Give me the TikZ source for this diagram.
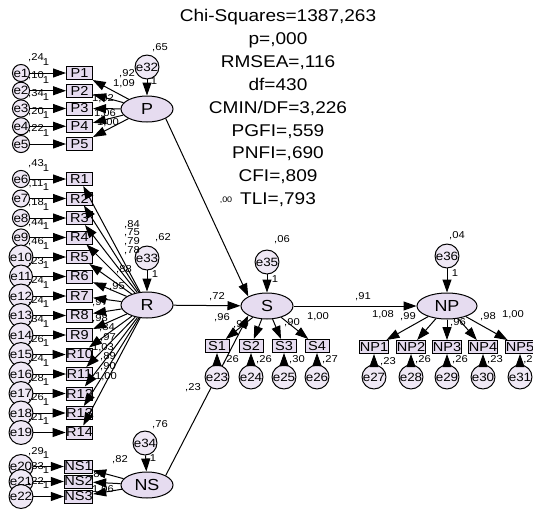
\documentclass[tikz,border=0pt]{standalone}
\usepackage{fontspec}
\setmainfont{Liberation Sans}[FakeStretch=1.12]
\usetikzlibrary{arrows.meta,shapes.geometric}
\definecolor{lav}{HTML}{E6DCF0}
\definecolor{lavlight}{HTML}{EFE8F5}

\begin{document}
\begin{tikzpicture}[x=1pt,y=-1pt, every node/.style={inner sep=0pt}, ind/.style={draw,fill=lav,line width=1pt,minimum width=26pt,minimum height=13pt,font=\fontsize{13}{13}\selectfont}, lat/.style={draw,ellipse,fill=lav,line width=1pt,minimum width=52pt,minimum height=26pt,font=\fontsize{16}{16}\selectfont}, err/.style={draw,circle,fill=lavlight,line width=1pt,minimum size=14pt,font=\fontsize{12}{12}\selectfont}, lerr/.style={err,minimum size=20pt}, num/.style={font=\fontsize{10}{10}\selectfont}, arr/.style={-{Triangle[length=13pt,width=9pt]},line width=1pt}]
\useasboundingbox[fill=white] (0,0) rectangle (533,509);
% fit indices
\node[anchor=north,align=center,font=\fontsize{17}{22.9}\selectfont] (fit) at (278,9) {Chi-Squares=1387,263\\p=,000\\RMSEA=,116\\df=430\\CMIN/DF=3,226\\PGFI=,559\\PNFI=,690\\CFI=,809\\TLI=,793};
% latent variables
\node[lat] (P) at (147,109) {P};
\node[lat] (R) at (147,305) {R};
\node[lat] (NS) at (147,485) {NS};
\node[lat] (S) at (267,306) {S};
\node[lat,minimum width=60pt] (NP) at (447,306) {NP};
\node[lerr,minimum size=18pt] (e32) at (147,67) {e32}; \node[num] (v32) at (160,48) {,65}; \node[num] (o32) at (154,81) {1};
\node[lerr] (e33) at (147,258) {e33}; \node[num] (v33) at (163,238) {,62}; \node[num] (o33) at (155,274) {1};
\node[lerr] (e34) at (145,443) {e34}; \node[num] (v34) at (160,425) {,76}; \node[num] (o34) at (153,458) {1};
\node[lerr,minimum size=22pt] (e35) at (267,262) {e35}; \node[num] (v35) at (282,240) {,06}; \node[num] (o35) at (275,279) {1};
\node[lerr] (e36) at (447,256) {e36}; \node[num] (v36) at (457,236) {,04}; \node[num] (o36) at (455,273) {1};
\draw[arr] (e32)--(P);\draw[arr] (e33)--(R);\draw[arr] (e34)--(NS);\draw[arr] (e35)--(S);\draw[arr] (e36)--(NP);
% structural paths
\draw[arr] (P.south east)--(S.north west); \node[num,font=\fontsize{8}{8}\selectfont] (b1) at (226,200) {,00};
\draw[arr] (R)--(S); \node[num] (b2) at (217,297) {,72};
\draw[arr] (NS.north east)--(S.south west); \node[num] (b3) at (193,388) {,23};
\draw[arr] (S)--(NP); \node[num] (b4) at (363,297) {,91};
% P block
\node[ind] (P1) at (79.5,73) {P1}; \node[err] (e1) at (21,73) {e1}; \node[num] (v1) at (36,58) {,24}; \node[num] (o1) at (46,62) {1};
\node[ind] (P2) at (79.5,90.75) {P2}; \node[err] (e2) at (21,90.75) {e2}; \node[num] (v2) at (36,75.75) {,10}; \node[num] (o2) at (46,79.75) {1};
\node[ind] (P3) at (79.5,108.5) {P3}; \node[err] (e3) at (21,108.5) {e3}; \node[num] (v3) at (36,93.5) {,34}; \node[num] (o3) at (46,97.5) {1};
\node[ind] (P4) at (79.5,126.25) {P4}; \node[err] (e4) at (21,126.25) {e4}; \node[num] (v4) at (36,111.25) {,20}; \node[num] (o4) at (46,115.25) {1};
\node[ind] (P5) at (79.5,144) {P5}; \node[err] (e5) at (21,144) {e5}; \node[num] (v5) at (36,129) {,22}; \node[num] (o5) at (46,133) {1};
\draw[arr] (e1)--(P1);\draw[arr] (e2)--(P2);\draw[arr] (e3)--(P3);\draw[arr] (e4)--(P4);\draw[arr] (e5)--(P5);
\draw[arr] (P)--(P1);\draw[arr] (P)--(P2);\draw[arr] (P)--(P3);\draw[arr] (P)--(P4);\draw[arr] (P)--(P5);
\node[num] (l1) at (127,74) {,92}; \node[num] (l2) at (124,84) {1,09}; \node[num] (l3) at (103,99) {1,02}; \node[num] (l4) at (105,114) {1,06}; \node[num] (l5) at (108,123) {1,00};
% R block
\node[ind] (R1) at (79.5,179) {R1}; \node[err] (e6) at (21,179) {e6}; \node[num] (v6) at (36,164) {,43}; \node[num] (o6) at (46,168) {1};
\node[ind] (R2) at (79.5,198.5) {R2}; \node[err] (e7) at (21,198.5) {e7}; \node[num] (v7) at (36,183.5) {,11}; \node[num] (o7) at (46,187.5) {1};
\node[ind] (R3) at (79.5,218) {R3}; \node[err] (e8) at (21,218) {e8}; \node[num] (v8) at (36,203) {,18}; \node[num] (o8) at (46,207) {1};
\node[ind] (R4) at (79.5,237.5) {R4}; \node[err] (e9) at (21,237.5) {e9}; \node[num] (v9) at (36,222.5) {,44}; \node[num] (o9) at (46,226.5) {1};
\node[ind] (R5) at (79.5,257) {R5}; \node[err] (e10) at (21,257) {e10}; \node[num] (v10) at (36,242) {,46}; \node[num] (o10) at (46,246) {1};
\node[ind] (R6) at (79.5,276.5) {R6}; \node[err] (e11) at (21,276.5) {e11}; \node[num] (v11) at (36,261.5) {,23}; \node[num] (o11) at (46,265.5) {1};
\node[ind] (R7) at (79.5,296) {R7}; \node[err] (e12) at (21,296) {e12}; \node[num] (v12) at (36,281) {,24}; \node[num] (o12) at (46,285) {1};
\node[ind] (R8) at (79.5,315.5) {R8}; \node[err] (e13) at (21,315.5) {e13}; \node[num] (v13) at (36,300.5) {,24}; \node[num] (o13) at (46,304.5) {1};
\node[ind] (R9) at (79.5,335) {R9}; \node[err] (e14) at (21,335) {e14}; \node[num] (v14) at (36,320) {,34}; \node[num] (o14) at (46,324) {1};
\node[ind] (R10) at (79.5,354.5) {R10}; \node[err] (e15) at (21,354.5) {e15}; \node[num] (v15) at (36,339.5) {,26}; \node[num] (o15) at (46,343.5) {1};
\node[ind] (R11) at (79.5,374) {R11}; \node[err] (e16) at (21,374) {e16}; \node[num] (v16) at (36,359) {,24}; \node[num] (o16) at (46,363) {1};
\node[ind] (R12) at (79.5,393.5) {R12}; \node[err] (e17) at (21,393.5) {e17}; \node[num] (v17) at (36,378.5) {,28}; \node[num] (o17) at (46,382.5) {1};
\node[ind] (R13) at (79.5,413) {R13}; \node[err] (e18) at (21,413) {e18}; \node[num] (v18) at (36,398) {,26}; \node[num] (o18) at (46,402) {1};
\node[ind] (R14) at (79.5,432.5) {R14}; \node[err] (e19) at (21,432.5) {e19}; \node[num] (v19) at (36,417.5) {,21}; \node[num] (o19) at (46,421.5) {1};
\draw[arr] (e6)--(R1);\draw[arr] (e7)--(R2);\draw[arr] (e8)--(R3);\draw[arr] (e9)--(R4);\draw[arr] (e10)--(R5);\draw[arr] (e11)--(R6);\draw[arr] (e12)--(R7);
\draw[arr] (e13)--(R8);\draw[arr] (e14)--(R9);\draw[arr] (e15)--(R10);\draw[arr] (e16)--(R11);\draw[arr] (e17)--(R12);\draw[arr] (e18)--(R13);\draw[arr] (e19)--(R14);
\draw[arr] (R)--(R1);\draw[arr] (R)--(R2);\draw[arr] (R)--(R3);\draw[arr] (R)--(R4);\draw[arr] (R)--(R5);\draw[arr] (R)--(R6);\draw[arr] (R)--(R7);
\draw[arr] (R)--(R8);\draw[arr] (R)--(R9);\draw[arr] (R)--(R10);\draw[arr] (R)--(R11);\draw[arr] (R)--(R12);\draw[arr] (R)--(R13);\draw[arr] (R)--(R14);
\node[num] (l6) at (132,225) {,84}; \node[num] (l7) at (132,233) {,75}; \node[num] (l8) at (132,242) {,79}; \node[num] (l9) at (132,251) {,78};
\node[num] (l10) at (124,270) {,88}; \node[num] (l11) at (117,287) {,95}; \node[num] (l12) at (100,303) {,97}; \node[num] (l13) at (100,319) {,98};
\node[num] (l14) at (107,328) {,84}; \node[num] (l15) at (108,338) {,97}; \node[num] (l16) at (103,348) {1,03}; \node[num] (l17) at (108,357) {,89};
\node[num] (l18) at (108,367) {,90}; \node[num] (l19) at (106,377) {1,00};
% NS block
\node[ind] (NS1) at (78.5,466.5) {NS1}; \node[err] (e20) at (21,466.5) {e20}; \node[num] (v20) at (36,451.5) {,29}; \node[num] (o20) at (46,455.5) {1};
\node[ind] (NS2) at (78.5,481.5) {NS2}; \node[err] (e21) at (21,481.5) {e21}; \node[num] (v21) at (36,466.5) {,33}; \node[num] (o21) at (46,470.5) {1};
\node[ind] (NS3) at (78.5,496.5) {NS3}; \node[err] (e22) at (21,496.5) {e22}; \node[num] (v22) at (36,481.5) {,22}; \node[num] (o22) at (46,485.5) {1};
\draw[arr] (e20)--(NS1);\draw[arr] (e21)--(NS2);\draw[arr] (e22)--(NS3);
\draw[arr] (NS)--(NS1);\draw[arr] (NS)--(NS2);\draw[arr] (NS)--(NS3);
\node[num] (l20) at (120,460) {,82}; \node[num] (l21) at (98,475) {,89}; \node[num] (l22) at (103,490) {1,06};
% S block
\node[ind,minimum width=24pt] (S1) at (217,346) {S1}; \node[err,minimum size=18pt] (e23) at (217,377) {e23}; \node[num] (v23) at (231,360) {,26};
\node[ind,minimum width=24pt] (S2) at (251,346) {S2}; \node[err,minimum size=18pt] (e24) at (251,377) {e24}; \node[num] (v24) at (264,360) {,26};
\node[ind,minimum width=24pt] (S3) at (284,346) {S3}; \node[err,minimum size=18pt] (e25) at (284,377) {e25}; \node[num] (v25) at (297,360) {,30};
\node[ind,minimum width=24pt] (S4) at (317,346) {S4}; \node[err,minimum size=18pt] (e26) at (317,377) {e26}; \node[num] (v26) at (330,360) {,27};
\draw[arr] (e23)--(S1);\draw[arr] (e24)--(S2);\draw[arr] (e25)--(S3);\draw[arr] (e26)--(S4);
\draw[arr] (S)--(S1);\draw[arr] (S)--(S2);\draw[arr] (S)--(S3);\draw[arr] (S)--(S4);
\node[num] (l23) at (222,318) {,96}; \node[num] (l24) at (241,325) {,99}; \node[num] (l25) at (292,323) {,90}; \node[num] (l26) at (318,317) {1,00};
% NP block
\node[ind,minimum width=28pt] (NP1) at (374,347) {NP1}; \node[err,minimum size=18pt] (e27) at (374,377) {e27}; \node[num] (v27) at (388,362) {,23};
\node[ind,minimum width=28pt] (NP2) at (411,347) {NP2}; \node[err,minimum size=18pt] (e28) at (411,377) {e28}; \node[num] (v28) at (423,360) {,26};
\node[ind,minimum width=28pt] (NP3) at (447,347) {NP3}; \node[err,minimum size=18pt] (e29) at (447,377) {e29}; \node[num] (v29) at (460,360) {,26};
\node[ind,minimum width=28pt] (NP4) at (483,347) {NP4}; \node[err,minimum size=18pt] (e30) at (483,377) {e30}; \node[num] (v30) at (495,360) {,23};
\node[ind,minimum width=28pt] (NP5) at (520,347) {NP5}; \node[err,minimum size=18pt] (e31) at (520,377) {e31}; \node[num] (v31) at (528,360) {,2};
\draw[arr] (e27)--(NP1);\draw[arr] (e28)--(NP2);\draw[arr] (e29)--(NP3);\draw[arr] (e30)--(NP4);\draw[arr] (e31)--(NP5);
\draw[arr] (NP)--(NP1);\draw[arr] (NP)--(NP2);\draw[arr] (NP)--(NP3);\draw[arr] (NP)--(NP4);\draw[arr] (NP)--(NP5);
\node[num] (l27) at (383,315) {1,08}; \node[num] (l28) at (408,317) {,99}; \node[num] (l29) at (458,323) {,96}; \node[num] (l30) at (488,317) {,98}; \node[num] (l31) at (513,315) {1,00};
\end{tikzpicture}
\end{document}
